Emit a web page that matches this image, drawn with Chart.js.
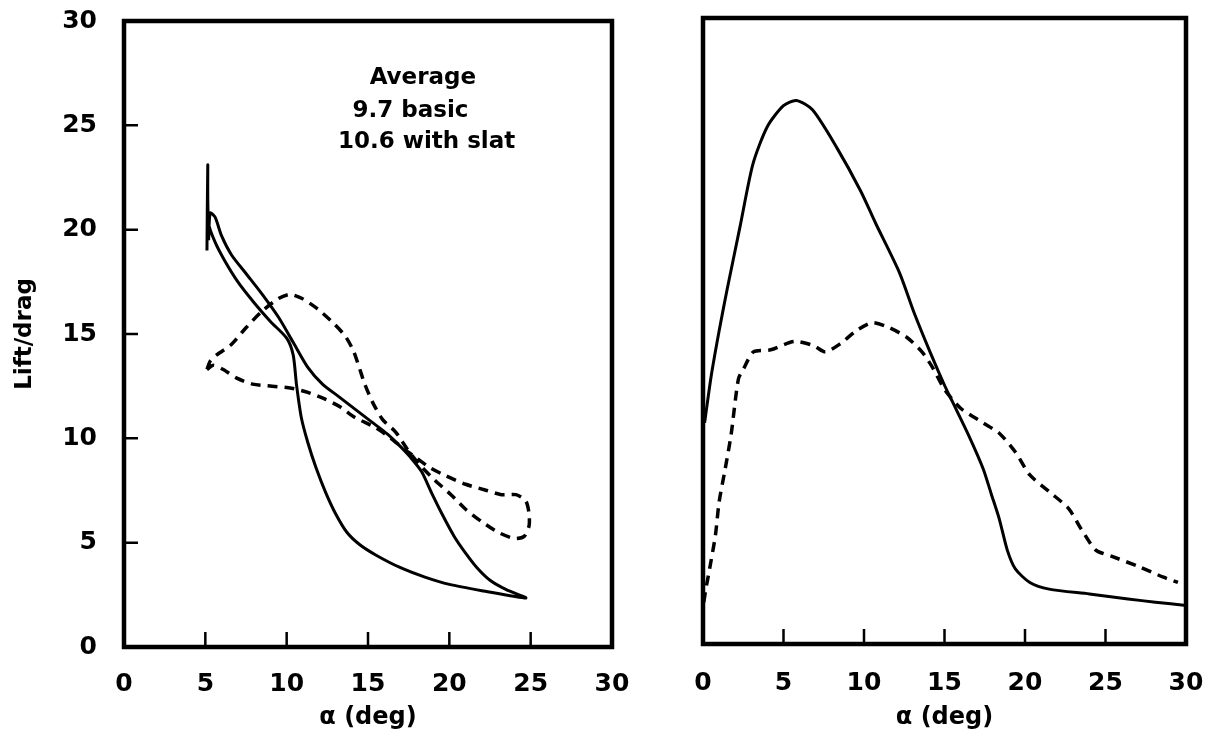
<!DOCTYPE html>
<html>
<head>
<meta charset="utf-8">
<script src="https://cdn.jsdelivr.net/npm/chart.js@4.4.1/dist/chart.umd.min.js"></script>
<style>
  html, body { margin: 0; padding: 0; background: #fff; }
  #wrap { position: relative; width: 1213px; height: 738px; }
  canvas { position: absolute; top: 0; }
  #left { left: 0; }
  #right { left: 660px; }
</style>
</head>
<body>
<div id="wrap">
  <canvas id="left" width="640" height="738"></canvas>
  <canvas id="right" width="553" height="738"></canvas>
</div>
<script>
// axis ticks
const tickValues = [0, 5, 10, 15, 20, 25, 30];
const markValues = [5, 10, 15, 20, 25];

// left panel, solid loop (alpha, L/D) in drawing order
const leftSolidAlpha = [5.1, 5.15, 5.2, 5.6, 6.2, 7.0, 8.0, 9.0, 10.0, 10.4, 10.6, 10.9, 11.3, 11.8, 12.4, 13.0, 13.7, 14.5, 15.5, 17.0, 18.5, 20.0, 22.0, 24.7,
  23.5, 22.5, 21.7, 21.0, 20.3, 19.6, 18.9, 18.3, 17.6, 17.0, 16.2, 15.2, 14.2, 13.2, 12.2, 11.3, 10.4, 9.5, 8.5, 7.5, 6.6, 6.0, 5.6, 5.3, 5.2];
const leftSolidLD = [19.0, 23.1, 20.3, 19.4, 18.5, 17.5, 16.5, 15.6, 14.8, 14.0, 12.6, 11.0, 9.8, 8.6, 7.4, 6.4, 5.5, 4.9, 4.4, 3.8, 3.35, 3.0, 2.7, 2.35,
  2.75, 3.2, 3.8, 4.5, 5.3, 6.3, 7.4, 8.4, 9.1, 9.6, 10.2, 10.8, 11.4, 12.0, 12.6, 13.4, 14.6, 15.8, 16.9, 17.9, 18.8, 19.7, 20.6, 20.8, 19.5];

// left panel, dashed loop
const leftDashAlpha = [5.1, 5.3, 5.7, 6.6, 7.5, 8.5, 9.5, 10.2, 10.95, 11.9, 12.9, 13.6, 14.1, 14.5, 14.8, 15.3, 15.9, 16.7, 17.4,
  18.1, 19.1, 20.1, 21.0, 22.0, 23.0, 24.0, 24.6, 24.9, 24.9, 24.7, 24.1, 23.2, 22.3, 21.0, 19.8, 18.8, 17.9, 17.2,
  16.4, 15.5, 14.2, 13.3, 12.3, 11.3, 10.3, 9.1, 7.9, 6.9, 6.1, 5.5, 5.1];
const leftDashLD = [13.3, 13.7, 14.0, 14.5, 15.3, 16.1, 16.7, 16.9, 16.7, 16.2, 15.5, 14.9, 14.2, 13.3, 12.6, 11.7, 10.9, 10.3, 9.5,
  8.8, 8.0, 7.3, 6.6, 6.0, 5.5, 5.2, 5.3, 5.8, 6.4, 7.0, 7.3, 7.3, 7.5, 7.8, 8.2, 8.6, 9.1, 9.5,
  10.0, 10.5, 11.0, 11.5, 11.9, 12.2, 12.4, 12.5, 12.6, 12.9, 13.3, 13.5, 13.3];

// right panel, solid
const rightSolidAlpha = [0.1, 0.5, 1.0, 1.5, 2.3, 3.1, 4.0, 5.0, 5.8, 6.8, 8.3, 9.8, 10.7, 12.2, 13.1, 14.1, 15.0, 15.5, 16.5, 17.4, 17.9, 18.4, 18.9, 19.4, 20.3, 21.5, 24.0, 26.4, 28.1, 30.0];
const rightSolidLD = [10.6, 12.8, 15.0, 17.0, 20.0, 23.0, 24.8, 25.8, 26.05, 25.6, 23.8, 21.7, 20.2, 17.8, 15.9, 14.0, 12.4, 11.6, 10.0, 8.4, 7.2, 6.0, 4.5, 3.6, 2.95, 2.63, 2.4, 2.16, 2.0, 1.85];

// right panel, dashed
const rightDashAlpha = [0.05, 0.17, 0.41, 0.77, 1.0, 1.38, 1.74, 2.2, 2.53, 3.13, 4.2, 5.66, 6.87, 7.6, 8.55, 9.5, 10.5, 11.45, 12.65, 13.6, 14.3, 15.0, 16.0, 17.4, 18.4, 19.4, 20.3, 21.5, 22.7, 23.5, 24.4, 25.4, 27.1, 28.6, 29.5];
const rightDashLD = [2.0, 2.6, 3.6, 5.2, 6.8, 8.4, 10.0, 12.7, 13.2, 14.0, 14.1, 14.5, 14.3, 14.0, 14.4, 15.0, 15.4, 15.2, 14.7, 14.0, 13.2, 12.2, 11.3, 10.6, 10.1, 9.2, 8.1, 7.3, 6.5, 5.5, 4.5, 4.2, 3.7, 3.2, 2.95];

const noteLines = ['Average', '9.7 basic', '10.6 with slat'];

Chart.defaults.font.family = '"DejaVu Sans"';
Chart.defaults.color = '#000';

function pts(xs, ys) {
  return xs.map((x, i) => ({ x: x, y: ys[i] }));
}

function line(xs, ys, dashed) {
  return {
    data: pts(xs, ys),
    showLine: true,
    borderColor: '#000',
    borderWidth: dashed ? 3.5 : 3,
    borderDash: dashed ? [10, 7] : [],
    pointRadius: 0,
    tension: 0.25,
    fill: false
  };
}

// label overhang must not push the plot area around
function noPad(s) {
  s.paddingTop = 0; s.paddingBottom = 0; s.paddingLeft = 0; s.paddingRight = 0;
}

// black frame round the plot area plus inward tick marks
const framePlugin = {
  id: 'frame',
  afterDraw(chart, args, opts) {
    const { ctx, chartArea: a, scales } = chart;
    ctx.save();
    ctx.strokeStyle = '#000';
    ctx.lineWidth = 2.5;
    ctx.beginPath();
    markValues.forEach(v => {
      const px = scales.x.getPixelForValue(v);
      ctx.moveTo(px, a.bottom);
      ctx.lineTo(px, a.bottom - 15);
      if (opts.yMarks) {
        const py = scales.y.getPixelForValue(v);
        ctx.moveTo(a.left, py);
        ctx.lineTo(a.left + 14, py);
      }
    });
    ctx.stroke();
    ctx.lineWidth = 4.5;
    ctx.strokeRect(a.left, a.top, a.right - a.left, a.bottom - a.top);
    ctx.restore();
  }
};

const notePlugin = {
  id: 'note',
  afterDraw(chart, args, opts) {
    if (!opts.show) return;
    const { ctx, scales } = chart;
    const anchors = [[15.1, 27.0], [14.05, 25.4], [13.15, 23.9]];
    ctx.save();
    ctx.fillStyle = '#000';
    ctx.font = 'bold 23px "DejaVu Sans"';
    ctx.textAlign = 'left';
    ctx.textBaseline = 'alphabetic';
    noteLines.forEach((t, i) => {
      ctx.fillText(t, scales.x.getPixelForValue(anchors[i][0]), scales.y.getPixelForValue(anchors[i][1]));
    });
    ctx.restore();
  }
};

function xScale(h, pad) {
  return {
    type: 'linear', min: 0, max: 30,
    afterBuildTicks: s => { s.ticks = tickValues.map(v => ({ value: v })); },
    afterFit: s => { s.height = h; noPad(s); },
    grid: { display: false, drawTicks: false },
    border: { display: false },
    ticks: { font: { size: 25, weight: 'bold' }, padding: pad, maxRotation: 0 },
    title: { display: true, text: 'α (deg)', font: { size: 24, weight: 'bold' }, padding: { top: 0, bottom: 6 } }
  };
}

new Chart(document.getElementById('left'), {
  type: 'scatter',
  data: {
    datasets: [
      line(leftSolidAlpha, leftSolidLD, false),
      line(leftDashAlpha, leftDashLD, true)
    ]
  },
  options: {
    responsive: false,
    animation: false,
    layout: { padding: { top: 21, right: 28, left: 0, bottom: 0 } },
    plugins: { legend: { display: false }, tooltip: { enabled: false }, frame: { yMarks: true }, note: { show: true } },
    scales: {
      x: xScale(91, 22),
      y: {
        type: 'linear', min: 0, max: 30,
        afterBuildTicks: s => { s.ticks = tickValues.map(v => ({ value: v })); },
        afterFit: s => { s.width = 124; noPad(s); },
        grid: { display: false, drawTicks: false },
        border: { display: false },
        ticks: { font: { size: 25, weight: 'bold' }, padding: 27 },
        title: { display: true, text: 'Lift/drag', font: { size: 23, weight: 'bold' }, padding: { top: 11, bottom: 0 } }
      }
    }
  },
  plugins: [framePlugin, notePlugin]
});

new Chart(document.getElementById('right'), {
  type: 'scatter',
  data: {
    datasets: [
      line(rightSolidAlpha, rightSolidLD, false),
      line(rightDashAlpha, rightDashLD, true)
    ]
  },
  options: {
    responsive: false,
    animation: false,
    layout: { padding: { top: 18, right: 27, left: 43, bottom: 0 } },
    plugins: { legend: { display: false }, tooltip: { enabled: false }, frame: { yMarks: false }, note: { show: false } },
    scales: {
      x: xScale(94, 24),
      y: { type: 'linear', min: 0, max: 30, display: false }
    }
  },
  plugins: [framePlugin, notePlugin]
});
</script>
</body>
</html>
